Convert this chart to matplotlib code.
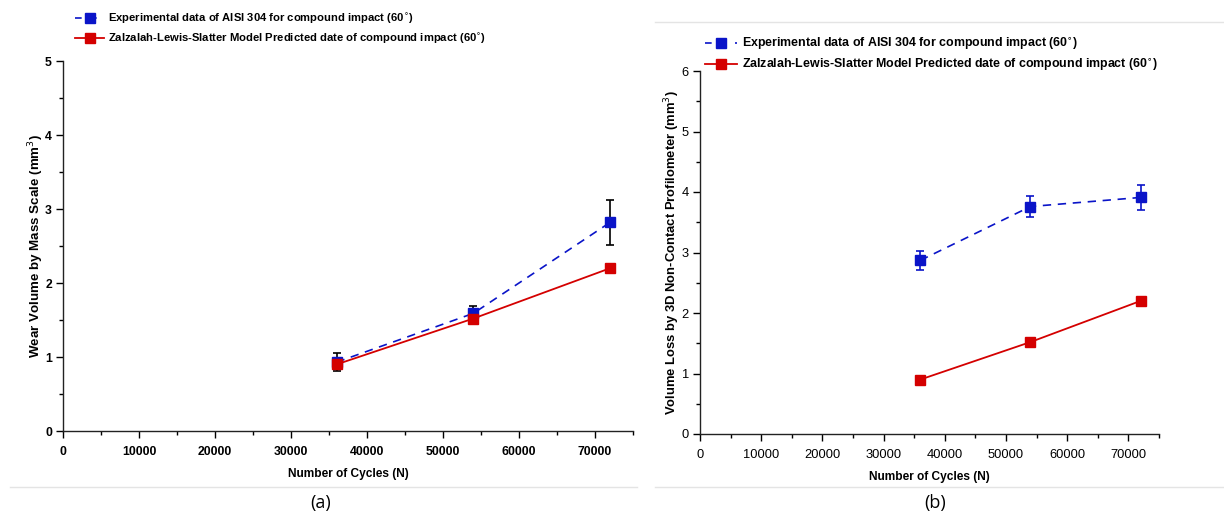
import matplotlib
matplotlib.use("Agg")
import matplotlib.pyplot as plt
from matplotlib.lines import Line2D
from matplotlib.ticker import MultipleLocator

plt.rcParams['font.family'] = ['Liberation Sans', 'DejaVu Sans']

# cycles and wear data
cycles = [36000, 54000, 72000]
model_vol = [0.90, 1.52, 2.20]

mass_vol = [0.93, 1.59, 2.82]
mass_err = [0.12, 0.10, 0.30]

prof_vol = [2.87, 3.76, 3.91]
prof_err = [0.16, 0.18, 0.20]

exp_label = "Experimental data of AISI 304 for compound impact (60$^{\\circ}$)"
model_label = "Zalzalah-Lewis-Slatter Model Predicted date of compound impact (60$^{\\circ}$)"

blue = '#0a14c8'
red = '#d40000'

fig = plt.figure(figsize=(12.24, 5.17), dpi=100)
W, H = 1224, 517

def make_axes(x0, x1, ytop, ybot):
    return fig.add_axes([x0 / W, (H - ybot) / H, (x1 - x0) / W, (ybot - ytop) / H])

ax1 = make_axes(63, 633, 61, 431)
ax2 = make_axes(700, 1159, 71, 434)

def style(ax, ymax, bold_ticks, tick_size, label_size):
    ax.set_xlim(0, 75000)
    ax.set_ylim(0, ymax)
    ax.spines['top'].set_visible(False)
    ax.spines['right'].set_visible(False)
    for s in ('left', 'bottom'):
        ax.spines[s].set_linewidth(1.0)
        ax.spines[s].set_color('#222222')
    ax.xaxis.set_major_locator(MultipleLocator(10000))
    ax.xaxis.set_minor_locator(MultipleLocator(5000))
    ax.yaxis.set_major_locator(MultipleLocator(1))
    ax.yaxis.set_minor_locator(MultipleLocator(0.5))
    ax.tick_params(which='major', direction='out', length=5, width=1, labelsize=tick_size, pad=6)
    ax.tick_params(which='minor', direction='out', length=3, width=1)
    ax.tick_params(axis='y', pad=3)
    if bold_ticks:
        for t in ax.get_xticklabels() + ax.get_yticklabels():
            t.set_fontweight('bold')
    ax.set_xlabel("Number of Cycles (N)", fontsize=label_size, fontweight='bold', labelpad=7)

# legend keys: dashed blue key shows a dash on each side of the square
exp_key = Line2D([], [], color=blue, ls=(0, (4, 5)), lw=1.2, marker='s', ms=7)
mod_key = Line2D([], [], color=red, lw=1.3, marker='s', ms=7)

def add_legend(ax, x, y, size, gap):
    ax.legend([exp_key, mod_key], [exp_label, model_label], loc='upper left',
              bbox_to_anchor=(x, y), frameon=False,
              prop={'weight': 'bold', 'size': size}, handlelength=2.6,
              handletextpad=0.35, labelspacing=gap, borderaxespad=0)

# (a) wear volume from mass loss
ax1.errorbar(cycles, mass_vol, yerr=mass_err, color=blue, ls=(0, (5, 4)), lw=1.2,
             marker='s', ms=7, ecolor='black', elinewidth=1.2, capsize=3, capthick=1.2,
             zorder=3)
ax1.plot(cycles, model_vol, color=red, lw=1.3, marker='s', ms=7, zorder=4)
style(ax1, 5, True, 8.8, 8.6)
ax1.set_ylabel("Wear Volume by Mass Scale (mm$^3$)", fontsize=9.6, fontweight='bold', labelpad=-1)
add_legend(ax1, 0.013, 1.145, 8.1, 0.5)

# (b) volume loss from profilometer
ax2.errorbar(cycles, prof_vol, yerr=prof_err, color=blue, ls=(0, (5, 4)), lw=1.2,
             marker='s', ms=7, ecolor=blue, elinewidth=1.2, capsize=3, capthick=1.2,
             zorder=3)
ax2.plot(cycles, model_vol, color=red, lw=1.3, marker='s', ms=7, zorder=4)
style(ax2, 6, False, 9.3, 8.6)
ax2.set_ylabel("Volume Loss by 3D Non-Contact Profilometer (mm$^3$)", fontsize=9.4,
               fontweight='bold', labelpad=0)
add_legend(ax2, 0.0, 1.11, 8.95, 0.4)

# panel frames and captions
grey = '#e4e4e4'
fig.add_artist(Line2D([10 / W, 637 / W], [1 - 487 / H, 1 - 487 / H], color=grey, lw=1))
fig.add_artist(Line2D([655 / W, 1224 / W], [1 - 487 / H, 1 - 487 / H], color=grey, lw=1))
fig.add_artist(Line2D([655 / W, 1224 / W], [1 - 22 / H, 1 - 22 / H], color=grey, lw=1))
fig.text(321 / W, 1 - 503 / H, "(a)", ha='center', va='center', fontsize=13,
         family=['Open Sans', 'DejaVu Sans'])
fig.text(935 / W, 1 - 503 / H, "(b)", ha='center', va='center', fontsize=13,
         family=['Open Sans', 'DejaVu Sans'])

fig.savefig("out.png", dpi=100)
